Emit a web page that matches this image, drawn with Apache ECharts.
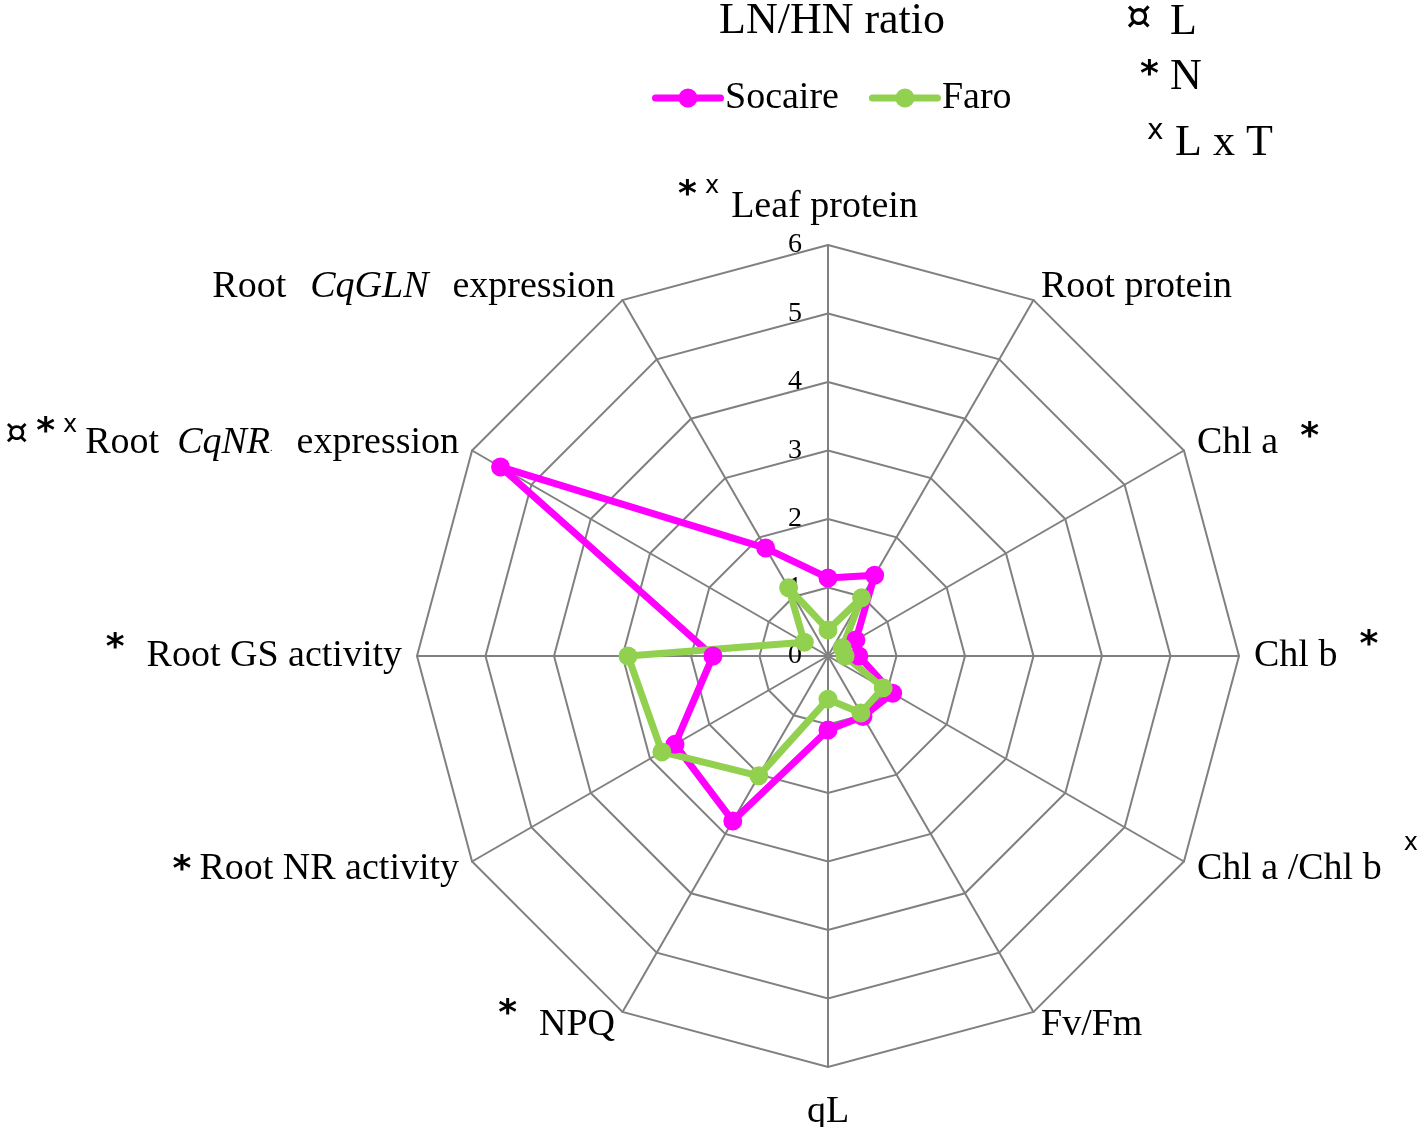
<!DOCTYPE html>
<html>
<head>
<meta charset="utf-8">
<script src="https://cdn.jsdelivr.net/npm/echarts@6/dist/echarts.min.js"></script>
<style>html,body{margin:0;padding:0;background:#fff;}#c{width:1418px;height:1127px;}</style>
</head>
<body>
<div id="c"></div>
<script>
// Indicators in clockwise order starting at the top
const categories = ['Leaf protein', 'Root protein', 'Chl a', 'Chl b', 'Chl a /Chl b', 'Fv/Fm', 'qL', 'NPQ', 'Root NR activity', 'Root GS activity', 'Root CqNR expression', 'Root CqGLN expression'];
const socaire = [1.14, 1.36, 0.47, 0.45, 1.09, 1.02, 1.08, 2.78, 2.58, 1.68, 5.52, 1.82];
const faro = [0.38, 0.98, 0.24, 0.25, 0.93, 0.96, 0.63, 2.02, 2.80, 2.92, 0.40, 1.15];
const tickLabels = ['0', '1', '2', '3', '4', '5', '6'];
const seriesNames = ['Socaire', 'Faro'];
const seriesColors = ['#FF00FF', '#92D050'];

const SERIF = '"Liberation Serif", "Times New Roman", serif';
const SANS = '"DejaVu Sans", sans-serif';

// rich-text labels (significance symbols + italic gene names)
const labelText = {
  'Leaf protein': '{a24|*}{sp5|}{x6|x}{sp1|}{lp|Leaf protein}{pad|}',
  'Root protein': 'Root protein',
  'Chl a': 'Chl a{sp2|}{a50|*}',
  'Chl b': 'Chl b{sp2|}{a40|*}',
  'Chl a /Chl b': 'Chl a /Chl b{sp2|}{x10|x}',
  'Fv/Fm': 'Fv/Fm',
  'qL': 'qL',
  'NPQ': '{a40|*}{sp2|}NPQ',
  'Root NR activity': '{a64|*}{sp3|}Root NR activity',
  'Root GS activity': '{a46|*}{sp2|}Root GS activity',
  'Root CqNR expression': '{cur|¤}{sp4|}{a40|*}{sp4|}{x26|x}{sp3|}Root{g1|}{i|CqNR}{dot|.}{g2|}expression',
  'Root CqGLN expression': 'Root{g3|}{i|CqGLN}{g2|}expression'
};

// radar goes counter-clockwise, so reorder for clockwise display
function toDisplay(arr) {
  return [arr[0]].concat(arr.slice(1).reverse());
}
const dispCats = toDisplay(categories);

const indicator = dispCats.map((name, i) => {
  const o = { name: name, min: 0, max: 6 };
  if (i === 0) {
    o.axisLabel = {
      show: true, color: '#000', fontFamily: SERIF, fontSize: 28, margin: 26, lineHeight: 28,
      formatter: function (v) { return tickLabels[Math.round(v)]; }
    };
  }
  return o;
});

function ast(h) {
  return { fontFamily: SANS, fontWeight: 'bold', fontSize: 36, color: '#000', verticalAlign: 'top', lineHeight: 10, height: h };
}
function sup(h) {
  return { fontFamily: SANS, fontSize: 24, color: '#000', verticalAlign: 'top', lineHeight: 10, height: h };
}
function gap(w) {
  return { width: w, lineHeight: 10 };
}

const chart = echarts.init(document.getElementById('c'), null, { renderer: 'canvas' });
const option = {
  backgroundColor: '#fff',
  animation: false,
  title: {
    text: 'LN/HN ratio', left: 714, top: -6,
    textStyle: { fontFamily: SERIF, fontSize: 44, fontWeight: 'normal', color: '#000' }
  },
  legend: {
    data: seriesNames, left: 647, top: 74, itemGap: 30, itemWidth: 72, itemHeight: 20,
    icon: 'path://M3.5,6.5 L68.5,6.5 A3.5,3.5 0 0 1 68.5,13.5 L3.5,13.5 A3.5,3.5 0 0 1 3.5,6.5 Z M36,0.5 A9.5,9.5 0 1 1 35.99,0.5 Z',
    textStyle: { fontFamily: SERIF, fontSize: 38, color: '#000', padding: [0, 0, 0, -4] }
  },
  radar: {
    center: [828, 656],
    radius: 411,
    startAngle: 90,
    splitNumber: 6,
    shape: 'polygon',
    nameGap: 15,
    indicator: indicator,
    axisName: {
      color: '#000', fontFamily: SERIF, fontSize: 38, lineHeight: 60,
      formatter: function (name) { return labelText[name] || name; },
      rich: {
        a24: ast(24), a40: ast(40), a46: ast(46), a50: ast(50), a64: ast(64),
        x6: sup(6), x10: sup(10), x26: sup(26),
        lp: { fontFamily: SERIF, fontSize: 38, color: '#000', lineHeight: 46 },
        cur: { fontFamily: SANS, fontSize: 36, color: '#000', verticalAlign: 'top', lineHeight: 10, height: 44 },
        i: { fontFamily: SERIF, fontStyle: 'italic', fontSize: 38, color: '#000' },
        dot: { fontFamily: SERIF, fontSize: 10, color: '#000', verticalAlign: 'top', lineHeight: 10, height: 70 },
        sp1: gap(12),
        sp2: gap(22),
        sp3: gap(8),
        sp4: gap(8),
        sp5: gap(8),
        g1: gap(18),
        g2: gap(24),
        g3: gap(24),
        pad: gap(60)
      }
    },
    axisLine: { lineStyle: { color: '#808080', width: 2 } },
    splitLine: { lineStyle: { color: '#808080', width: 2 } },
    splitArea: { show: false },
    axisTick: { show: false },
    axisLabel: { show: false }
  },
  graphic: [
    { type: 'text', left: 1126, top: -1, style: { text: '¤', font: '40px "DejaVu Sans"', fill: '#000' } },
    { type: 'text', left: 1170, top: 0, style: { text: 'L', font: '44px "Liberation Serif"', fill: '#000' } },
    { type: 'text', left: 1140, top: 58, style: { text: '*', font: 'bold 36px "DejaVu Sans"', fill: '#000' } },
    { type: 'text', left: 1170, top: 55, style: { text: 'N', font: '44px "Liberation Serif"', fill: '#000' } },
    { type: 'text', left: 1147, top: 118, style: { text: 'x', font: '28px "DejaVu Sans"', fill: '#000' } },
    { type: 'text', left: 1175, top: 121, style: { text: 'L x T', font: '44px "Liberation Serif"', fill: '#000' } }
  ],
  series: [{
    type: 'radar',
    symbol: 'circle',
    symbolSize: 19,
    data: [
      {
        name: seriesNames[0], value: toDisplay(socaire),
        itemStyle: { color: seriesColors[0] }, lineStyle: { color: seriesColors[0], width: 7 }
      },
      {
        name: seriesNames[1], value: toDisplay(faro),
        itemStyle: { color: seriesColors[1] }, lineStyle: { color: seriesColors[1], width: 7 }
      }
    ]
  }]
};
chart.setOption(option);
</script>
</body>
</html>
